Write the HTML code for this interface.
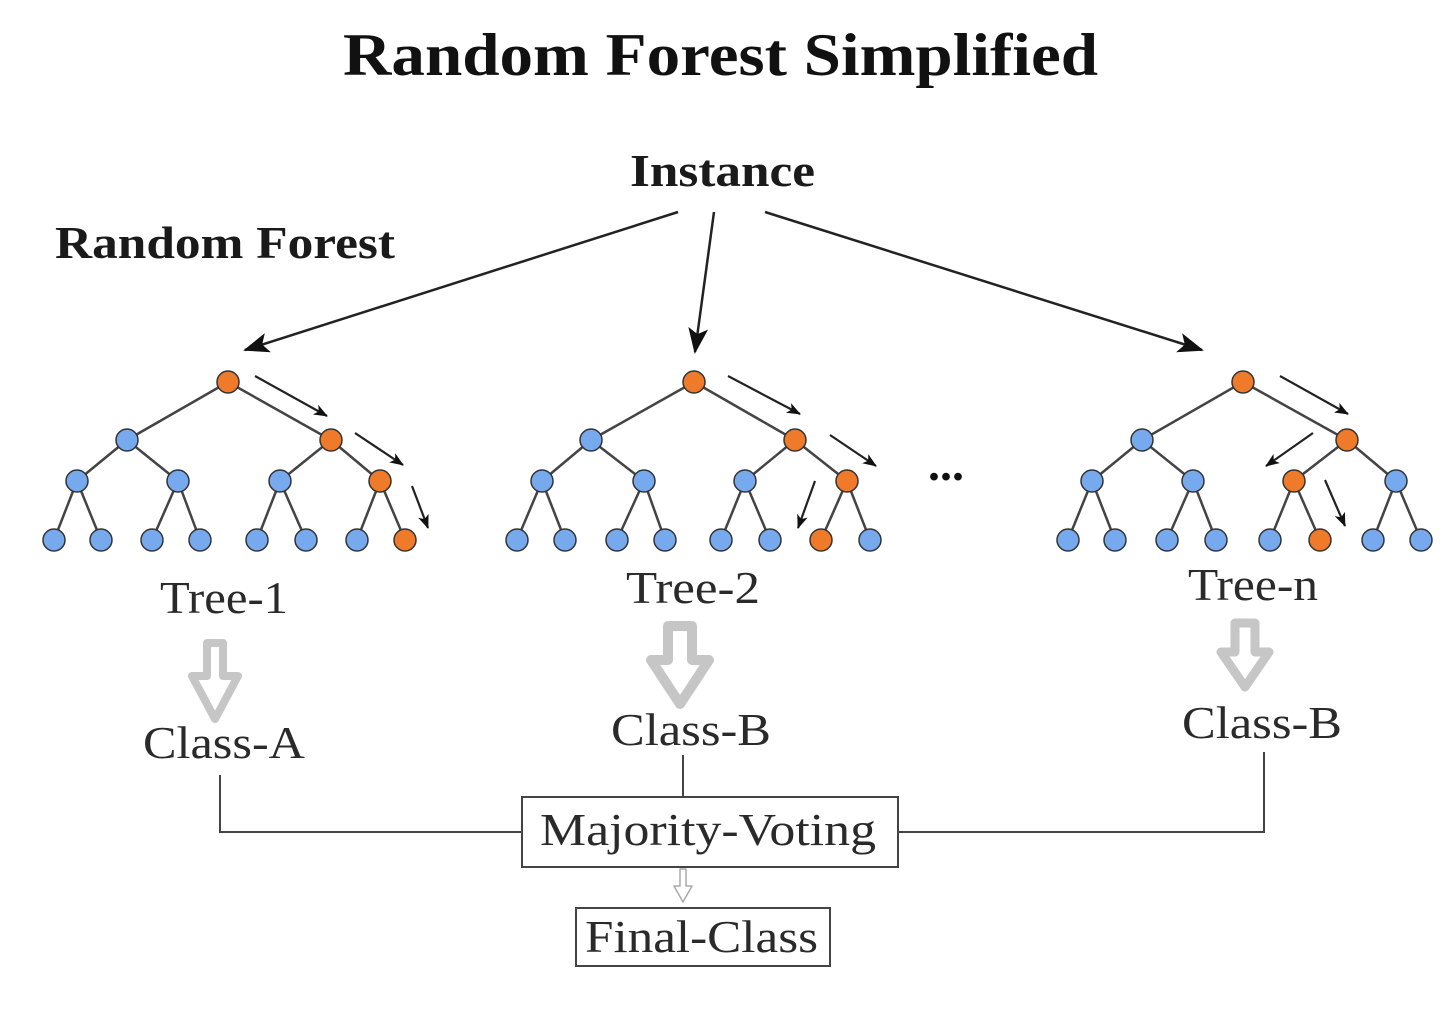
<!DOCTYPE html>
<html><head><meta charset="utf-8"><style>
html,body{margin:0;padding:0;background:#fff;}
svg{display:block;}
text{font-family:"Liberation Serif",serif;}
</style></head><body>
<svg width="1453" height="1030" viewBox="0 0 1453 1030" xmlns="http://www.w3.org/2000/svg">
<defs>
<marker id="ah" markerWidth="14" markerHeight="11" refX="13" refY="5.5" orient="auto" markerUnits="userSpaceOnUse" viewBox="0 0 14 11">
<path d="M0,0 L14,5.5 L0,11 L3.5,5.5 z" fill="#111"/>
</marker>
<marker id="ahb" markerWidth="26" markerHeight="20" refX="24" refY="10" orient="auto" markerUnits="userSpaceOnUse" viewBox="0 0 26 20">
<path d="M0,0 L26,10 L0,20 L6,10 z" fill="#111"/>
</marker>
</defs>
<rect width="1453" height="1030" fill="#fff"/>

<text x="343" y="75" font-size="60" font-weight="bold" fill="#111" textLength="755" lengthAdjust="spacingAndGlyphs">Random Forest Simplified</text>
<text x="630" y="186" font-size="46" font-weight="bold" fill="#1a1a1a" textLength="185" lengthAdjust="spacingAndGlyphs">Instance</text>
<text x="55" y="258" font-size="46" font-weight="bold" fill="#1a1a1a" textLength="340" lengthAdjust="spacingAndGlyphs">Random Forest</text>

<g stroke="#222" stroke-width="2.5" fill="none">
<line x1="678" y1="212" x2="245" y2="350" marker-end="url(#ahb)"/>
<line x1="714" y1="212" x2="695" y2="352" marker-end="url(#ahb)"/>
<line x1="765" y1="212" x2="1202" y2="350" marker-end="url(#ahb)"/>
</g>

<!-- Tree 1 -->
<g stroke="#444" stroke-width="2.5">
<line x1="228" y1="382" x2="127" y2="440"/><line x1="228" y1="382" x2="331" y2="440"/>
<line x1="127" y1="440" x2="77" y2="481"/><line x1="127" y1="440" x2="178" y2="481"/>
<line x1="331" y1="440" x2="280" y2="481"/><line x1="331" y1="440" x2="380" y2="481"/>
<line x1="77" y1="481" x2="54" y2="540"/><line x1="77" y1="481" x2="101" y2="540"/>
<line x1="178" y1="481" x2="152" y2="540"/><line x1="178" y1="481" x2="200" y2="540"/>
<line x1="280" y1="481" x2="257" y2="540"/><line x1="280" y1="481" x2="306" y2="540"/>
<line x1="380" y1="481" x2="357" y2="540"/><line x1="380" y1="481" x2="405" y2="540"/>
</g>
<g stroke="#333" stroke-width="1.5">
<circle cx="228" cy="382" r="11" fill="#ef7b2a"/>
<circle cx="127" cy="440" r="11" fill="#77a9ee"/><circle cx="331" cy="440" r="11" fill="#ef7b2a"/>
<circle cx="77" cy="481" r="11" fill="#77a9ee"/><circle cx="178" cy="481" r="11" fill="#77a9ee"/>
<circle cx="280" cy="481" r="11" fill="#77a9ee"/><circle cx="380" cy="481" r="11" fill="#ef7b2a"/>
<circle cx="54" cy="540" r="11" fill="#77a9ee"/><circle cx="101" cy="540" r="11" fill="#77a9ee"/>
<circle cx="152" cy="540" r="11" fill="#77a9ee"/><circle cx="200" cy="540" r="11" fill="#77a9ee"/>
<circle cx="257" cy="540" r="11" fill="#77a9ee"/><circle cx="306" cy="540" r="11" fill="#77a9ee"/>
<circle cx="357" cy="540" r="11" fill="#77a9ee"/><circle cx="405" cy="540" r="11" fill="#ef7b2a"/>
</g>
<g stroke="#222" stroke-width="2.2">
<line x1="255" y1="376" x2="327" y2="416" marker-end="url(#ah)"/>
<line x1="355" y1="433" x2="403" y2="465" marker-end="url(#ah)"/>
<line x1="412" y1="486" x2="428" y2="528" marker-end="url(#ah)"/>
</g>

<!-- Tree 2 -->
<g stroke="#444" stroke-width="2.5">
<line x1="694" y1="382" x2="591" y2="440"/><line x1="694" y1="382" x2="795" y2="440"/>
<line x1="591" y1="440" x2="542" y2="481"/><line x1="591" y1="440" x2="644" y2="481"/>
<line x1="795" y1="440" x2="745" y2="481"/><line x1="795" y1="440" x2="847" y2="481"/>
<line x1="542" y1="481" x2="517" y2="540"/><line x1="542" y1="481" x2="565" y2="540"/>
<line x1="644" y1="481" x2="617" y2="540"/><line x1="644" y1="481" x2="665" y2="540"/>
<line x1="745" y1="481" x2="721" y2="540"/><line x1="745" y1="481" x2="770" y2="540"/>
<line x1="847" y1="481" x2="821" y2="540"/><line x1="847" y1="481" x2="870" y2="540"/>
</g>
<g stroke="#333" stroke-width="1.5">
<circle cx="694" cy="382" r="11" fill="#ef7b2a"/>
<circle cx="591" cy="440" r="11" fill="#77a9ee"/><circle cx="795" cy="440" r="11" fill="#ef7b2a"/>
<circle cx="542" cy="481" r="11" fill="#77a9ee"/><circle cx="644" cy="481" r="11" fill="#77a9ee"/>
<circle cx="745" cy="481" r="11" fill="#77a9ee"/><circle cx="847" cy="481" r="11" fill="#ef7b2a"/>
<circle cx="517" cy="540" r="11" fill="#77a9ee"/><circle cx="565" cy="540" r="11" fill="#77a9ee"/>
<circle cx="617" cy="540" r="11" fill="#77a9ee"/><circle cx="665" cy="540" r="11" fill="#77a9ee"/>
<circle cx="721" cy="540" r="11" fill="#77a9ee"/><circle cx="770" cy="540" r="11" fill="#77a9ee"/>
<circle cx="821" cy="540" r="11" fill="#ef7b2a"/><circle cx="870" cy="540" r="11" fill="#77a9ee"/>
</g>
<g stroke="#222" stroke-width="2.2">
<line x1="728" y1="376" x2="800" y2="414" marker-end="url(#ah)"/>
<line x1="830" y1="435" x2="876" y2="466" marker-end="url(#ah)"/>
<line x1="815" y1="481" x2="798" y2="528" marker-end="url(#ah)"/>
</g>

<text x="928" y="480" font-size="48" font-weight="bold" fill="#111">...</text>

<!-- Tree n -->
<g stroke="#444" stroke-width="2.5">
<line x1="1243" y1="382" x2="1142" y2="440"/><line x1="1243" y1="382" x2="1347" y2="440"/>
<line x1="1142" y1="440" x2="1092" y2="481"/><line x1="1142" y1="440" x2="1193" y2="481"/>
<line x1="1347" y1="440" x2="1294" y2="481"/><line x1="1347" y1="440" x2="1396" y2="481"/>
<line x1="1092" y1="481" x2="1068" y2="540"/><line x1="1092" y1="481" x2="1115" y2="540"/>
<line x1="1193" y1="481" x2="1167" y2="540"/><line x1="1193" y1="481" x2="1216" y2="540"/>
<line x1="1294" y1="481" x2="1270" y2="540"/><line x1="1294" y1="481" x2="1320" y2="540"/>
<line x1="1396" y1="481" x2="1373" y2="540"/><line x1="1396" y1="481" x2="1421" y2="540"/>
</g>
<g stroke="#333" stroke-width="1.5">
<circle cx="1243" cy="382" r="11" fill="#ef7b2a"/>
<circle cx="1142" cy="440" r="11" fill="#77a9ee"/><circle cx="1347" cy="440" r="11" fill="#ef7b2a"/>
<circle cx="1092" cy="481" r="11" fill="#77a9ee"/><circle cx="1193" cy="481" r="11" fill="#77a9ee"/>
<circle cx="1294" cy="481" r="11" fill="#ef7b2a"/><circle cx="1396" cy="481" r="11" fill="#77a9ee"/>
<circle cx="1068" cy="540" r="11" fill="#77a9ee"/><circle cx="1115" cy="540" r="11" fill="#77a9ee"/>
<circle cx="1167" cy="540" r="11" fill="#77a9ee"/><circle cx="1216" cy="540" r="11" fill="#77a9ee"/>
<circle cx="1270" cy="540" r="11" fill="#77a9ee"/><circle cx="1320" cy="540" r="11" fill="#ef7b2a"/>
<circle cx="1373" cy="540" r="11" fill="#77a9ee"/><circle cx="1421" cy="540" r="11" fill="#77a9ee"/>
</g>
<g stroke="#222" stroke-width="2.2">
<line x1="1280" y1="376" x2="1348" y2="414" marker-end="url(#ah)"/>
<line x1="1313" y1="433" x2="1266" y2="466" marker-end="url(#ah)"/>
<line x1="1325" y1="480" x2="1345" y2="526" marker-end="url(#ah)"/>
</g>

<!-- labels -->
<g fill="#2a2a2a" font-size="46">
<text x="160" y="613" textLength="128" lengthAdjust="spacingAndGlyphs">Tree-1</text>
<text x="626" y="603" textLength="134" lengthAdjust="spacingAndGlyphs">Tree-2</text>
<text x="1188" y="600" textLength="130" lengthAdjust="spacingAndGlyphs">Tree-n</text>
<text x="143" y="758" textLength="162" lengthAdjust="spacingAndGlyphs">Class-A</text>
<text x="611" y="745" textLength="160" lengthAdjust="spacingAndGlyphs">Class-B</text>
<text x="1182" y="738" textLength="160" lengthAdjust="spacingAndGlyphs">Class-B</text>
</g>

<!-- hollow arrows -->
<g fill="#fff" stroke="#c6c6c6" stroke-linejoin="round">
<path d="M207,643 L223,643 L223,676 L238,676 L215,719 L192,676 L207,676 Z" stroke-width="8"/>
<path d="M668,626 L692,626 L692,660 L709,660 L680,704 L651,660 L668,660 Z" stroke-width="10"/>
<path d="M1235,623 L1255,623 L1255,652 L1269,652 L1245,687 L1221,652 L1235,652 Z" stroke-width="9"/>
<path d="M680,869 L686,869 L686,886 L692,886 L683,902 L674,886 L680,886 Z" stroke-width="1.5" stroke="#aaa"/>
</g>

<!-- connectors -->
<g stroke="#444" stroke-width="2" fill="none">
<polyline points="220,775 220,832 522,832"/>
<line x1="683" y1="755" x2="683" y2="797"/>
<polyline points="1264,752 1264,832 898,832"/>
</g>
<rect x="522" y="797" width="376" height="70" fill="#fff" stroke="#444" stroke-width="2"/>
<text x="540" y="845" font-size="46" fill="#2a2a2a" textLength="336" lengthAdjust="spacingAndGlyphs">Majority-Voting</text>
<rect x="576" y="908" width="254" height="58" fill="#fff" stroke="#444" stroke-width="2"/>
<text x="585" y="952" font-size="46" fill="#2a2a2a" textLength="233" lengthAdjust="spacingAndGlyphs">Final-Class</text>
</svg>
</body></html>
